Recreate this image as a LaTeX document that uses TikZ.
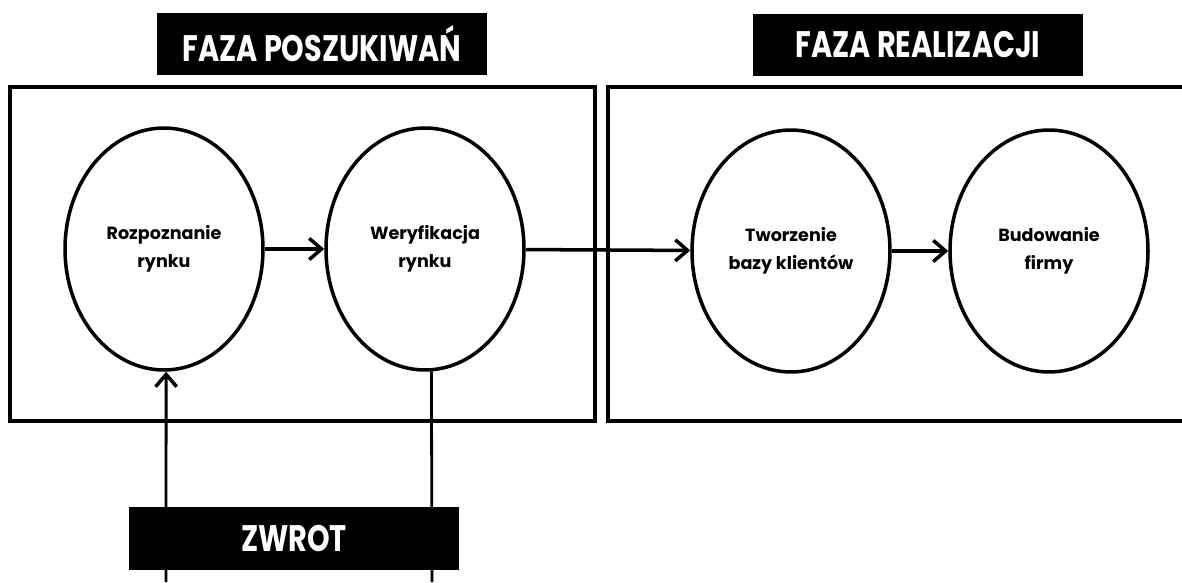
\documentclass[tikz,border=0pt]{standalone}
\usepackage{fontspec}
\setmainfont{Poppins}
\newfontfamily\titlefont{Poppins}[FakeStretch=0.78]
\usetikzlibrary{shapes.geometric,arrows.meta}

\begin{document}
\begin{tikzpicture}[x=0.02cm,y=-0.02cm,
    phase/.style={fill=black,text=white,minimum width=6.6cm,minimum height=1.26cm,
        font=\titlefont\bfseries\fontsize{21}{21}\selectfont},
    stage/.style={ellipse,draw,line width=2pt,minimum width=3.96cm,minimum height=4.84cm,
        align=center,font=\bfseries\fontsize{10}{16}\selectfont},
    flow/.style={line width=2pt,-{Straight Barb[length=7pt,width=12pt,line width=2pt]}}]
    \useasboundingbox (0,0) rectangle (1182,582);
    \clip (0,0) rectangle (1182,582);
    % two phases
    \draw[line width=2.2pt] (10,87) rectangle (595,421);
    \draw[line width=2.2pt] (608,87) rectangle (1195,421);
    \node[phase] (search) at (322,44) {FAZA POSZUKIWAŃ};
    \node[phase] (real) at (918,45) {FAZA REALIZACJI};
    % stages
    \node[stage] (recog) at (164,249) {Rozpoznanie\\rynku};
    \node[stage] (verif) at (425,249) {Weryfikacja\\rynku};
    \node[stage] (base) at (791,251) {Tworzenie\\bazy klientów};
    \node[stage] (firm) at (1049,251) {Budowanie\\firmy};
    \draw[flow] (recog) -- (verif);
    \draw[flow] (verif) -- (base);
    \draw[flow] (base) -- (firm);
    % pivot loop
    \coordinate (in) at (166,582);
    \coordinate (out) at (432,582);
    \draw[flow,line width=1.6pt] (in) -- (recog.-89);
    \draw[line width=1.6pt] (verif.-87) -- (out);
    \node[phase] (pivot) at (294,538) {ZWROT};
\end{tikzpicture}
\end{document}
